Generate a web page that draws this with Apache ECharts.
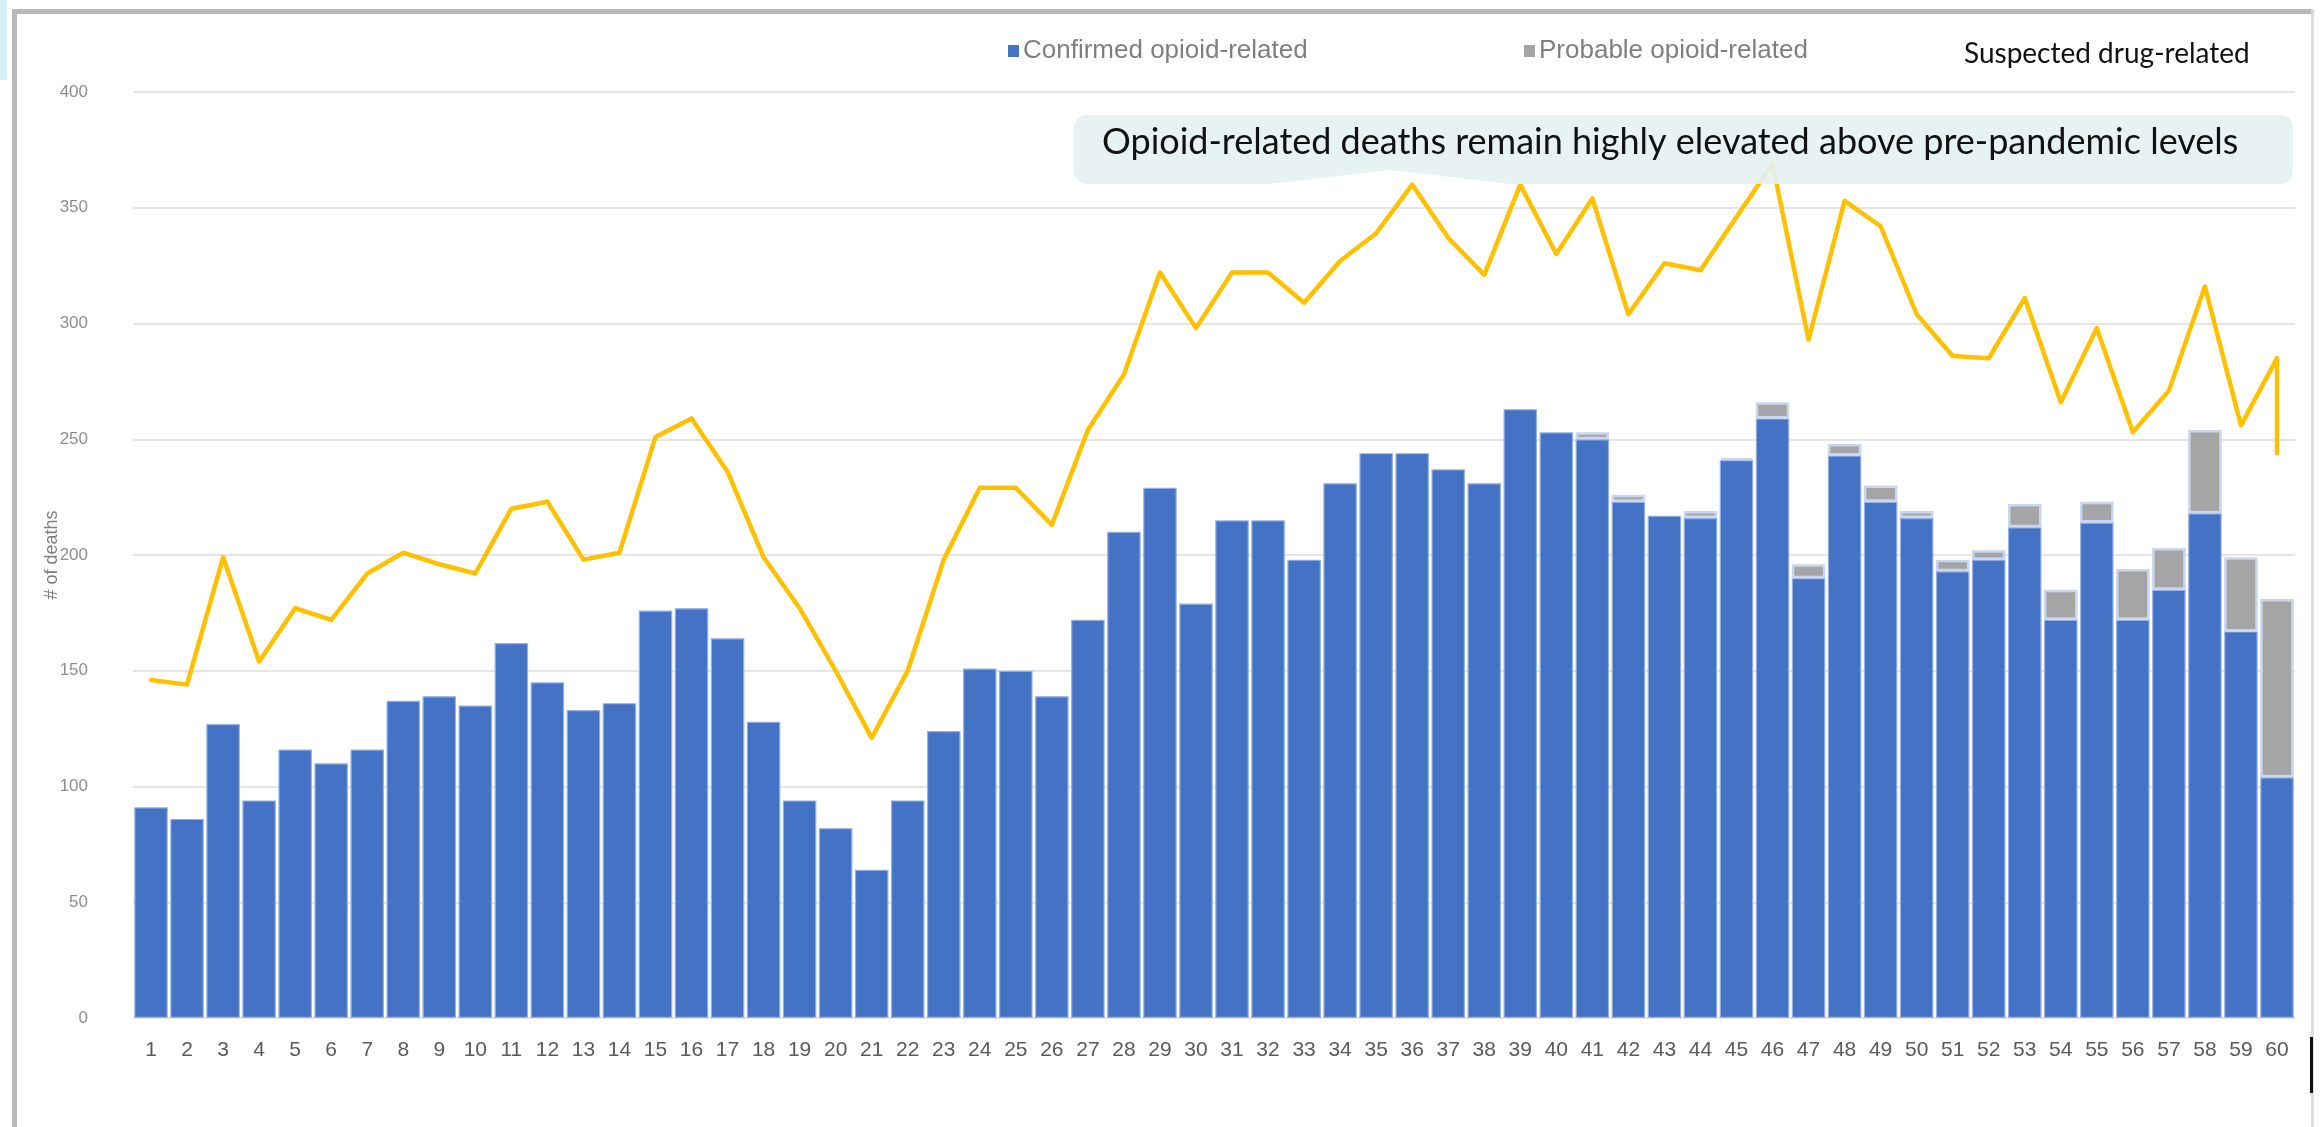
<!DOCTYPE html>
<html>
<head>
<meta charset="utf-8">
<title>Opioid-related deaths</title>
<script src="https://cdn.jsdelivr.net/npm/echarts@6/dist/echarts.min.js"></script>
<style>
  html, body { margin: 0; padding: 0; background: #ffffff; }
  #wrap { position: relative; width: 2323px; height: 1127px; overflow: hidden; background: #ffffff; }
  #chart, #overlay { position: absolute; left: 0; top: 0; width: 2323px; height: 1127px; }
  #chart { filter: blur(0.6px); }
</style>
</head>
<body>
<div id="wrap">
  <div id="chart"></div>
  <div id="overlay"></div>
</div>
<script>
// Week numbers along the x axis
const weeks = ['1','2','3','4','5','6','7','8','9','10',
  '11','12','13','14','15','16','17','18','19','20',
  '21','22','23','24','25','26','27','28','29','30',
  '31','32','33','34','35','36','37','38','39','40',
  '41','42','43','44','45','46','47','48','49','50',
  '51','52','53','54','55','56','57','58','59','60'];

// Confirmed opioid-related deaths per week
const confirmed = [91, 86, 127, 94, 116, 110, 116, 137, 139, 135,
  162, 145, 133, 136, 176, 177, 164, 128, 94, 82,
  64, 94, 124, 151, 150, 139, 172, 210, 229, 179,
  215, 215, 198, 231, 244, 244, 237, 231, 263, 253,
  250, 223, 217, 216, 241, 259, 190, 243, 223, 216,
  193, 198, 212, 172, 214, 172, 185, 218, 167, 104];

// Probable opioid-related deaths (pending confirmation)
const probable = [0, 0, 0, 0, 0, 0, 0, 0, 0, 0,
  0, 0, 0, 0, 0, 0, 0, 0, 0, 0,
  0, 0, 0, 0, 0, 0, 0, 0, 0, 0,
  0, 0, 0, 0, 0, 0, 0, 0, 0, 0,
  3, 3, 0, 3, 1, 7, 6, 5, 7, 3,
  5, 4, 10, 13, 9, 22, 18, 36, 32, 77];

// Suspected drug-related deaths per week
const suspected = [146, 144, 199, 154, 177, 172, 192, 201, 196, 192,
  220, 223, 198, 201, 251, 259, 236, 199, 177, 150,
  121, 150, 198, 229, 229, 213, 254, 278, 322, 298,
  322, 322, 309, 327, 339, 360, 337, 321, 360, 330,
  354, 304, 326, 323, 346, 369, 293, 353, 342, 304,
  286, 285, 311, 266, 298, 253, 271, 316, 256, 285];
// Latest partial-week figure, drawn as a drop at week 60
const suspectedLatest = 244;

const yTicks = { min: 0, max: 400, step: 50 };

const labelFont = "'Liberation Sans', Arial, sans-serif";
const noteFont = "Lato, 'Open Sans', sans-serif";

// Line points: one per week, plus the latest figure at the last week
const linePoints = suspected.map((v, i) => [weeks[i], v]);
linePoints.push([weeks[weeks.length - 1], suspectedLatest]);

const chart = echarts.init(document.getElementById('chart'));
chart.setOption({
  animation: false,
  backgroundColor: '#ffffff',
  grid: { left: 133, right: 28, top: 92, bottom: 109, containLabel: false },
  legend: [
    {
      left: 1003, top: 33,
      data: ['Confirmed opioid-related'],
      icon: 'rect', itemWidth: 11, itemHeight: 12, itemGap: 0,
      itemStyle: { borderWidth: 0 },
      textStyle: { fontFamily: labelFont, fontSize: 26, color: '#7f7f7f', padding: [0, 0, 0, -1] },
      selectedMode: false
    },
    {
      left: 1519, top: 33,
      data: ['Probable opioid-related'],
      icon: 'rect', itemWidth: 11, itemHeight: 12, itemGap: 0,
      itemStyle: { borderWidth: 0 },
      textStyle: { fontFamily: labelFont, fontSize: 26, color: '#7f7f7f', padding: [0, 0, 0, -1] },
      selectedMode: false
    }
  ],
  xAxis: {
    type: 'category',
    data: weeks,
    axisLine: { show: false },
    axisTick: { show: false },
    axisLabel: { interval: 0, margin: 22, fontFamily: labelFont, fontSize: 21, color: '#5a5a5a' }
  },
  yAxis: {
    type: 'value',
    min: yTicks.min, max: yTicks.max, interval: yTicks.step,
    axisLine: { show: false },
    axisTick: { show: false },
    axisLabel: { margin: 45, fontFamily: labelFont, fontSize: 17, color: '#8e8e8e' },
    splitLine: { lineStyle: { color: '#dcdcdc', width: 1.5 } }
  },
  graphic: [
    {
      type: 'text',
      x: 52, y: 555,
      rotation: Math.PI / 2,
      style: {
        text: '# of deaths',
        fontFamily: labelFont, fontSize: 18, fill: '#7f7f7f',
        align: 'center', verticalAlign: 'middle'
      }
    }
  ],
  series: [
    {
      name: 'Confirmed opioid-related',
      type: 'bar',
      stack: 'opioid',
      data: confirmed,
      barCategoryGap: '7%',
      itemStyle: { color: '#4472c4', borderColor: '#93afe3', borderWidth: 1.2 }
    },
    {
      name: 'Probable opioid-related',
      type: 'bar',
      stack: 'opioid',
      data: probable.map(v => (v > 0 ? v : '-')),
      itemStyle: { color: '#a5a5a5', borderColor: '#c9d6ee', borderWidth: 2.5 }
    },
    {
      name: 'Suspected drug-related',
      type: 'line',
      data: linePoints,
      symbol: 'none',
      z: 5,
      lineStyle: { color: '#ffc000', width: 4.5, join: 'round', cap: 'round' }
    }
  ]
});

// Callout outline: rounded box with a notch cut into its lower edge
const box = { x0: 1074, x1: 2293, y0: 115, y1: 184, r: 12 };
const notch = { left: 1270, peak: 1390, right: 1510, top: 170 };
function corner(cx, cy, a0, a1) {
  const pts = [];
  for (let k = 0; k <= 6; k++) {
    const a = a0 + (a1 - a0) * k / 6;
    pts.push([cx + box.r * Math.cos(a), cy + box.r * Math.sin(a)]);
  }
  return pts;
}
const PI = Math.PI;
const calloutPoints = [].concat(
  corner(box.x0 + box.r, box.y0 + box.r, PI, 1.5 * PI),
  corner(box.x1 - box.r, box.y0 + box.r, 1.5 * PI, 2 * PI),
  corner(box.x1 - box.r, box.y1 - box.r, 0, 0.5 * PI),
  [[notch.right, box.y1], [notch.peak, notch.top], [notch.left, box.y1]],
  corner(box.x0 + box.r, box.y1 - box.r, 0.5 * PI, PI)
);

// Callout, legend caption and page frame drawn crisp on top of the chart
const overlay = echarts.init(document.getElementById('overlay'));
overlay.setOption({
  animation: false,
  graphic: [
    { type: 'rect', shape: { x: 0, y: 0, width: 7, height: 80 }, style: { fill: '#d7f1f7' } },
    { type: 'rect', shape: { x: 12, y: 9, width: 2300, height: 5 }, style: { fill: '#b9b9b9' } },
    { type: 'rect', shape: { x: 12, y: 9, width: 5, height: 1118 }, style: { fill: '#b9b9b9' } },
    { type: 'rect', shape: { x: 2311, y: 9, width: 3, height: 1118 }, style: { fill: '#dcdcdc' } },
    { type: 'rect', shape: { x: 2310, y: 1037, width: 3, height: 56 }, style: { fill: '#111111' } },
    {
      type: 'polygon',
      shape: { points: calloutPoints },
      style: { fill: 'rgba(228,242,242,0.9)' }
    },
    {
      type: 'text',
      left: 1102, top: 124,
      style: {
        text: 'Opioid-related deaths remain highly elevated above pre-pandemic levels',
        fontFamily: noteFont, fontSize: 36, fill: '#111111'
      }
    },
    {
      type: 'text',
      left: 1964, top: 40,
      style: {
        text: 'Suspected drug-related',
        fontFamily: noteFont, fontSize: 28, fill: '#111111'
      }
    }
  ]
});
</script>
</body>
</html>
